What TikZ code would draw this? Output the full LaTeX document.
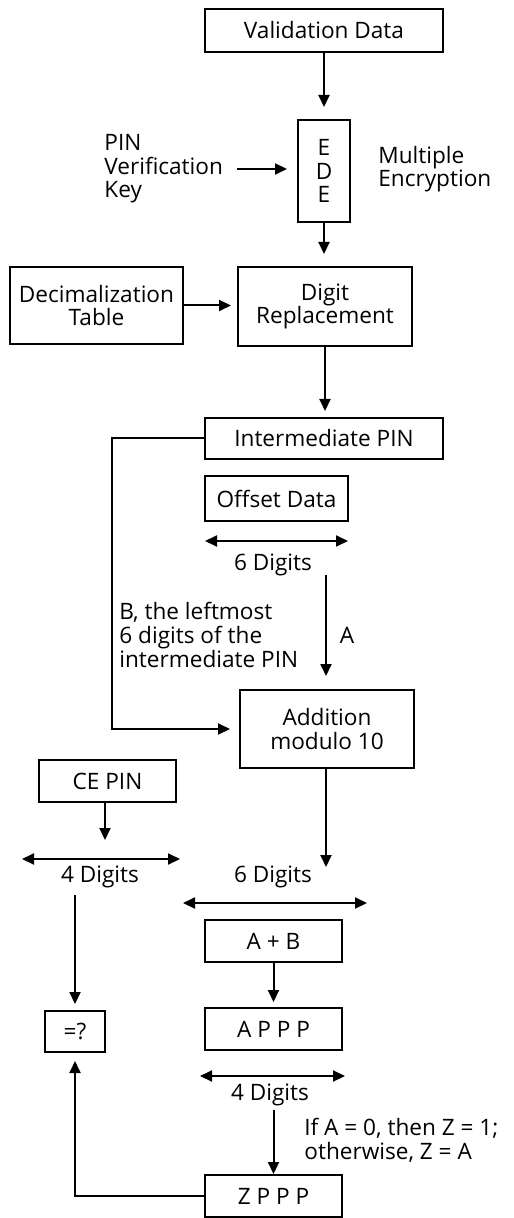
\documentclass[tikz,border=0pt]{standalone}
\usepackage{fontspec}
\setmainfont{Open Sans}
\usetikzlibrary{arrows.meta}
\newcommand{\dfont}{\fontsize{11.3pt}{11.8pt}\selectfont}
\tikzset{
  box/.style={draw,line width=1pt,inner sep=0pt,align=center,font=\dfont},
  txt/.style={inner sep=0pt,align=left,font=\dfont},
  arr/.style={line width=1pt,-{Triangle[length=6pt,width=5.5pt]}},
  dimarr/.style={line width=1pt,{Triangle[length=6pt,width=5.5pt]}-{Triangle[length=6pt,width=5.5pt]}},
}

\begin{document}
\begin{tikzpicture}[x=0.5pt,y=-0.5pt]
\useasboundingbox (0,0) rectangle (513,1218);

\node[box,minimum width=119pt,minimum height=21.5pt] (valid) at (324,30.5) {Validation Data};
\node[box,minimum width=26pt,minimum height=51pt] (ede) at (324,171) {E\\D\\E};
\node[txt,anchor=west] (pvk) at (104,169) {PIN\\Verification\\Key};
\node[txt,anchor=west] (multi) at (378,169) {Multiple\\Encryption};
\node[box,minimum width=87pt,minimum height=39.5pt] (digit) at (325,306.5) {Digit\\Replacement};
\node[box,minimum width=86.5pt,minimum height=38.5pt] (dect) at (96.5,305.5) {Decimalization\\Table};
\node[box,minimum width=119pt,minimum height=20.5pt] (inter) at (324,438.5) {Intermediate PIN};
\node[box,minimum width=71.5pt,minimum height=22.5pt] (offset) at (276.5,498.5) {Offset Data};
\node[txt] (sixone) at (273,565) {6 Digits};
\node[txt,anchor=west] (bdesc) at (119,635) {B, the leftmost\\6 digits of the\\intermediate PIN};
\node[txt] (alabel) at (347,635) {A};
\node[box,minimum width=87pt,minimum height=39pt] (add) at (327,729) {Addition\\modulo 10};
\node[box,minimum width=68.5pt,minimum height=21pt] (cepin) at (107.5,781) {CE PIN};
\node[txt] (fourone) at (100,877) {4 Digits};
\node[txt] (sixtwo) at (273,877) {6 Digits};
\node[box,minimum width=68.5pt,minimum height=21pt] (aplusb) at (273.5,941) {A + B};
\node[box,minimum width=68.5pt,minimum height=21pt] (appp) at (273.5,1029) {A P P P};
\node[box,minimum width=30pt,minimum height=20.5pt] (eq) at (75,1031.5) {=?};
\node[txt] (fourtwo) at (270,1095) {4 Digits};
\node[txt,anchor=west] (cond) at (304,1140) {If A = 0, then Z = 1;\\otherwise, Z = A};
\node[box,minimum width=68.5pt,minimum height=21pt] (zppp) at (273.5,1196) {Z P P P};

\coordinate (sixonel) at (205,541);
\coordinate (sixoner) at (348,541);
\coordinate (fouronel) at (22,859);
\coordinate (fouroner) at (180,859);
\coordinate (sixtwol) at (183,903);
\coordinate (sixtwor) at (367,903);
\coordinate (fourtwol) at (200,1076);
\coordinate (fourtwor) at (345,1076);
\draw[dimarr] (sixonel) -- (sixoner);
\draw[dimarr] (fouronel) -- (fouroner);
\draw[dimarr] (sixtwol) -- (sixtwor);
\draw[dimarr] (fourtwol) -- (fourtwor);

\coordinate (bturn) at (112,439);
\coordinate (atop) at (326,575);
\coordinate (sixtip) at (326,867);
\coordinate (cetip) at (105,840);
\coordinate (eqtop) at (75,895);
\coordinate (ztop) at (273.5,1110);

\draw[arr,shorten >=6pt] (valid.south) -- (ede.north);
\draw[arr,shorten <=7pt,shorten >=5pt] (pvk.east) -- (pvk.east -| ede.west);
\draw[arr,shorten >=6pt] (ede.south) -- (ede.south |- digit.north);
\draw[arr,shorten >=3pt] (dect.east) -- (dect.east -| digit.west);
\draw[arr,shorten >=3pt] (digit.south) -- (digit.south |- inter.north);
\draw[arr,shorten >=4.5pt] (inter.west) -- (inter.west -| bturn) |- (add.west);
\draw[arr,shorten >=6.5pt] (atop) -- (atop |- add.north);
\draw[arr] (add.south -| sixtip) -- (sixtip);
\draw[arr] (cepin.south -| cetip) -- (cetip);
\draw[arr,shorten >=3pt] (eqtop) -- (eq.north);
\draw[arr,shorten >=2.5pt] (aplusb.south) -- (appp.north);
\draw[arr] (ztop) -- (zppp.north);
\draw[arr,shorten >=4pt] (zppp.west) -| (eq.south);
\end{tikzpicture}
\end{document}
